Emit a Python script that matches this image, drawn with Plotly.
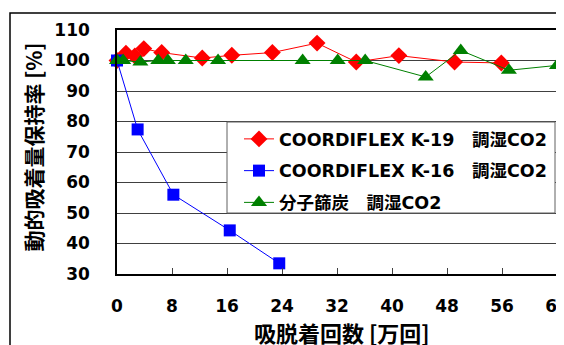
import plotly.graph_objects as go

# Data
k19_x = [0, 1.3, 2.6, 3.9, 6.5, 12.4, 16.7, 22.6, 29.1, 34.8, 41.0, 49.1, 55.9]
k19_y = [100, 102.4, 101.5, 103.9, 102.6, 100.8, 101.7, 102.6, 105.7, 99.5, 101.6, 99.5, 99.2]

k16_x = [0, 3.0, 8.2, 16.4, 23.6]
k16_y = [100, 77.4, 56.0, 44.3, 33.5]

cms_x = [0, 0.9, 3.4, 6.0, 7.4, 10.0, 14.7, 27.0, 32.1, 36.1, 44.9, 50.0, 57.0, 64.0]
cms_y = [100, 100, 99.5, 100, 100, 100, 100, 100, 100, 100, 94.6, 103.3, 96.8, 98.4]

names = ["COORDIFLEX K-19\u3000調湿CO2", "COORDIFLEX K-16\u3000調湿CO2", "分子篩炭\u3000調湿CO2"]
x_ticks = [0, 8, 16, 24, 32, 40, 48, 56, 64]
y_ticks = [30, 40, 50, 60, 70, 80, 90, 100, 110]

FONT = "DejaVu Sans, Noto Sans CJK JP"
CJK = "Noto Sans CJK JP, DejaVu Sans"

fig = go.Figure()
fig.add_trace(go.Scatter(x=k19_x, y=k19_y, name=names[0], mode="lines+markers",
                         line=dict(color="#FF0000", width=1),
                         marker=dict(symbol="diamond", size=13, color="#FF0000"),
                         cliponaxis=False, legendgroup="a"))
fig.add_trace(go.Scatter(x=k16_x, y=k16_y, name=names[1], mode="lines+markers",
                         line=dict(color="#0000FF", width=1),
                         marker=dict(symbol="square", size=12, color="#0000FF"),
                         cliponaxis=False, legendgroup="b"))
fig.add_trace(go.Scatter(x=cms_x, y=cms_y, name=names[2], mode="lines+markers",
                         line=dict(color="#008000", width=1),
                         marker=dict(symbol="triangle-up", size=14, color="#008000"),
                         cliponaxis=False, legendgroup="c"))

# page has an 8px body offset; plot area in screen px: left 117, right 557, top 30, bottom 274
OFF = 8
L, R, T, B = 117, 557, 30, 274
W, H = R - L, B - T

def px(x):
    return (x - L) / W

def py(y):
    return (B - y) / H

shapes = [
    # outer frame
    dict(type="rect", xref="paper", yref="paper", x0=px(10), x1=px(620), y0=py(420), y1=py(13),
         line=dict(color="black", width=1.5), fillcolor="rgba(0,0,0,0)", layer="below"),
    # legend box
    dict(type="rect", xref="paper", yref="paper", x0=px(227), x1=px(555), y0=py(213), y1=py(122),
         line=dict(color="#606060", width=1), fillcolor="white", layer="above"),
]

fig.update_layout(
    width=564, height=345,
    margin=dict(l=L - OFF, r=564 - (R - OFF), t=T - OFF, b=345 - (B - OFF), autoexpand=False),
    paper_bgcolor="white", plot_bgcolor="white",
    font=dict(family=FONT, color="black", size=17, weight="bold"),
    showlegend=True,
    legend=dict(x=px(239), y=py(121), xanchor="left", yanchor="top",
                bgcolor="rgba(0,0,0,0)", borderwidth=0,
                font=dict(family=FONT, size=17.5, weight="bold", color="black"),
                tracegroupgap=6, itemwidth=30),
    shapes=shapes,
    annotations=[
        dict(text="動的吸着量保持率 [%]", xref="paper", yref="paper", x=px(32.5), y=py(147),
             textangle=-90, showarrow=False, xanchor="center", yanchor="middle",
             font=dict(family=CJK, size=21, weight="bold")),
        dict(text="吸脱着回数 [万回]", xref="paper", yref="paper", x=px(342), y=py(332),
             showarrow=False, xanchor="center", yanchor="middle",
             font=dict(family=CJK, size=22, weight="bold")),
    ],
)

fig.update_xaxes(range=[0, 64], tickvals=x_ticks, ticktext=[str(v) for v in x_ticks],
                 showgrid=False, zeroline=False,
                 showline=True, linecolor="black", linewidth=1.5, mirror=True,
                 ticks="inside", ticklen=6, tickcolor="#404040",
                 ticklabelstandoff=16, ticklabeloverflow="allow",
                 tickfont=dict(size=17, weight="bold"))
fig.update_yaxes(range=[30, 110], tickvals=y_ticks, ticktext=[str(v) for v in y_ticks],
                 showgrid=True, gridcolor="#404040", gridwidth=1, zeroline=False,
                 showline=True, linecolor="black", linewidth=1.5, mirror=True,
                 ticks="", ticklabelstandoff=22, tickfont=dict(size=17, weight="bold"))

fig.write_html("out.html")
